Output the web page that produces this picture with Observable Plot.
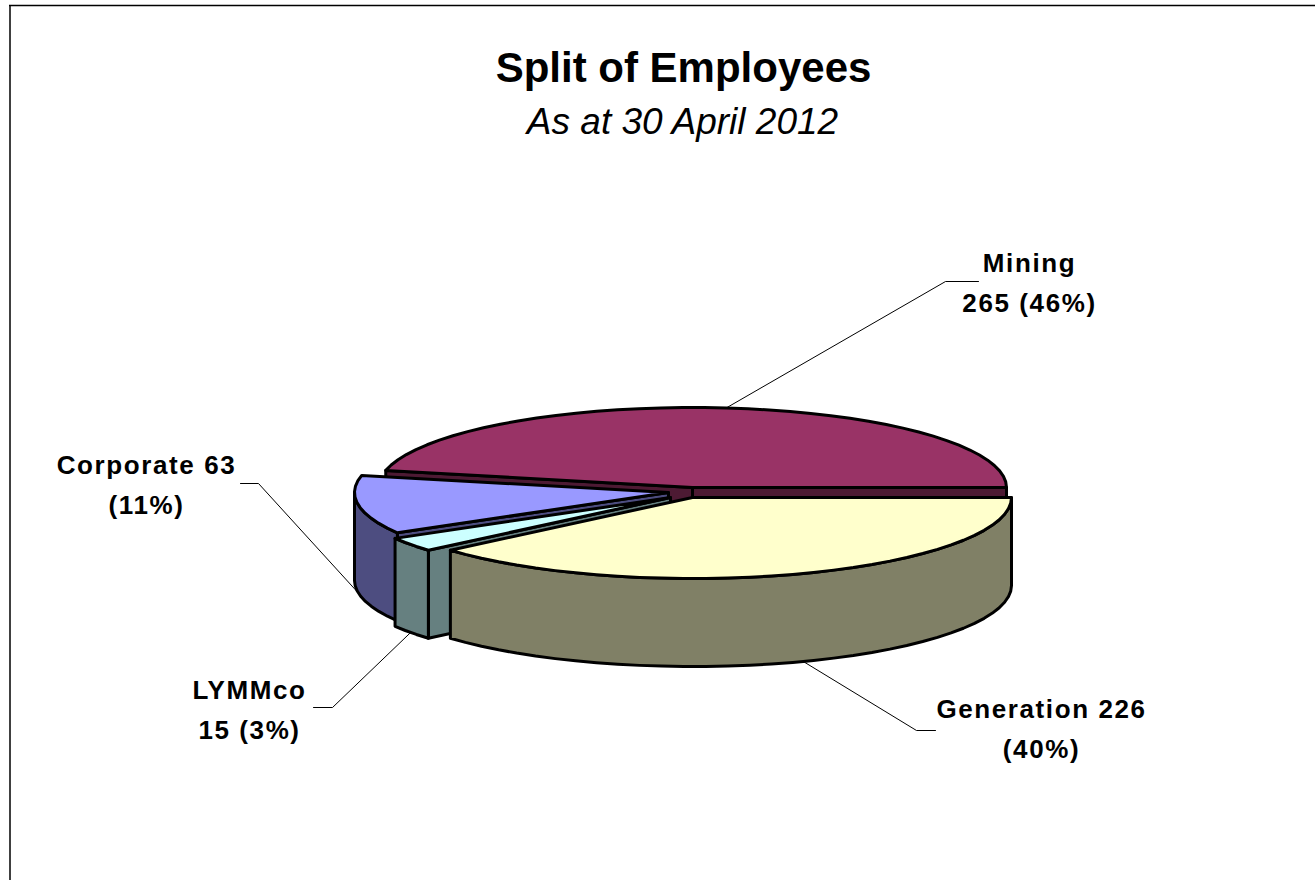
<!DOCTYPE html>
<html>
<head>
<meta charset="utf-8">
<script src="https://cdn.jsdelivr.net/npm/d3@7"></script>
<script src="https://cdn.jsdelivr.net/npm/@observablehq/plot@0.6"></script>
<style>html,body{margin:0;padding:0;background:#fff}svg{display:block}.slice-label text{letter-spacing:1.6px}</style>
</head>
<body>
<div id="chart"></div>
<script>
// Data, in the drawing order of the ring (clockwise from the right-hand edge)
const categories = ["Generation", "LYMMco", "Corporate", "Mining"];
const employees = [226, 15, 63, 265];
const labelLines = [
  ["Generation 226", "(40%)"],
  ["LYMMco", "15 (3%)"],
  ["Corporate 63", "(11%)"],
  ["Mining", "265 (46%)"]
];
const topColors = ["#FFFFCC", "#CCFFFF", "#9999FF", "#993366"];
const sideColors = ["#808066", "#668080", "#4D4D80", "#4D1A33"];

// Layout of the exploded 3-D pie, in picture units
const apexX = [692, 670, 668, 692];
const apexY = [497, 497, 492, 487];
const radiusX = [319, 319, 314, 314];
const radiusY = [81, 81, 80, 80];
const depth = 88;
const foreshorten = 6;
const elbows = [[916, 730, 935], [332, 707, 313], [258, 483, 240], [945, 281, 978]];
const labelPos = [[1041, 709], [249, 690], [146, 465], [1029, 263]];
const lineGap = 40;

const rad = (d) => d * Math.PI / 180;
const total = d3.sum(employees);
let running = 0;
const slices = categories.map((name, i) => {
  const a0 = running / total * 360;
  running += employees[i];
  const a1 = running / total * 360;
  const warp = (a) => a - foreshorten * Math.max(0, Math.sin(rad(a)));
  return {name, i, t0: warp(a0), t1: warp(a1)};
});
const pt = (s, t, drop = 0) => ({
  x: apexX[s.i] + radiusX[s.i] * Math.cos(rad(t)),
  y: apexY[s.i] + radiusY[s.i] * Math.sin(rad(t)) + drop
});
const arc = (s, a, b) => {
  const n = Math.max(1, Math.ceil(Math.abs(b - a) / 4));
  return d3.range(n + 1).map((k) => pt(s, a + (b - a) * k / n));
};

// Build polygons in painter's order: back slice first
const shapes = [];
let id = 0;
const add = (points, fill) => {
  id++;
  points.forEach((p) => shapes.push({x: p.x, y: p.y, z: id, fill}));
};
[3, 2, 1, 0].forEach((k) => {
  const s = slices[k];
  const apex = {x: apexX[k], y: apexY[k]};
  const face = (t) => {
    const e = pt(s, t);
    add([apex, e, {x: e.x, y: e.y + depth}, {x: apex.x, y: apex.y + depth}], sideColors[k]);
  };
  if (Math.sin(rad(s.t1 + 90)) > 0) face(s.t1);
  if (Math.sin(rad(s.t0 - 90)) > 0) face(s.t0);
  const w0 = Math.max(s.t0, 0), w1 = Math.min(s.t1, 180);
  if (w1 > w0) {
    const top = arc(s, w0, w1);
    add([...top, ...top.slice().reverse().map((p) => ({x: p.x, y: p.y + depth}))], sideColors[k]);
  }
  add([apex, ...arc(s, s.t0, s.t1)], topColors[k]);
});

// Leader lines start on the rim at each slice's middle angle
const leaders = slices.flatMap((s, k) => {
  const mid = (s.t0 + s.t1) / 2;
  const start = pt(s, mid, Math.sin(rad(mid)) > 0 ? depth : 0);
  const [ex, ey, tx] = elbows[k];
  return [start, {x: ex, y: ey}, {x: tx, y: ey}].map((p) => ({...p, name: s.name}));
});
const labels = labelLines.flatMap((lines, k) =>
  lines.map((text, j) => ({text, x: labelPos[k][0], y: labelPos[k][1] + j * lineGap})));

const font = "'Liberation Sans', Arial, sans-serif";
const chart = Plot.plot({
  width: 1315, height: 880,
  margin: 0,
  style: {background: "#fff"},
  x: {domain: [0, 1315], range: [0, 1315], axis: null},
  y: {domain: [0, 880], range: [0, 880], axis: null},
  marks: [
    Plot.ruleY([5], {x1: 9, x2: 1315, stroke: "#000", strokeWidth: 1.5}),
    Plot.ruleX([9.5], {y1: 5, y2: 880, stroke: "#000", strokeWidth: 1.5}),
    Plot.line(leaders, {x: "x", y: "y", z: "name", stroke: "#000", strokeWidth: 1}),
    Plot.line(shapes, {x: "x", y: "y", z: "z", fill: "fill", stroke: "#000", strokeWidth: 3,
      curve: "linear-closed", strokeLinejoin: "round"}),
    Plot.text(labels, {x: "x", y: "y", text: "text", fontFamily: font, fontWeight: "bold",
      fontSize: 26, fill: "#000", className: "slice-label"}),
    Plot.text(["Split of Employees"], {x: [683], y: [68], fontFamily: font, fontWeight: "bold",
      fontSize: 42, fill: "#000"}),
    Plot.text(["As at 30 April 2012"], {x: [682], y: [122], fontFamily: font, fontStyle: "italic",
      fontSize: 37, fill: "#000"})
  ]
});
document.getElementById("chart").append(chart);
</script>
</body>
</html>
